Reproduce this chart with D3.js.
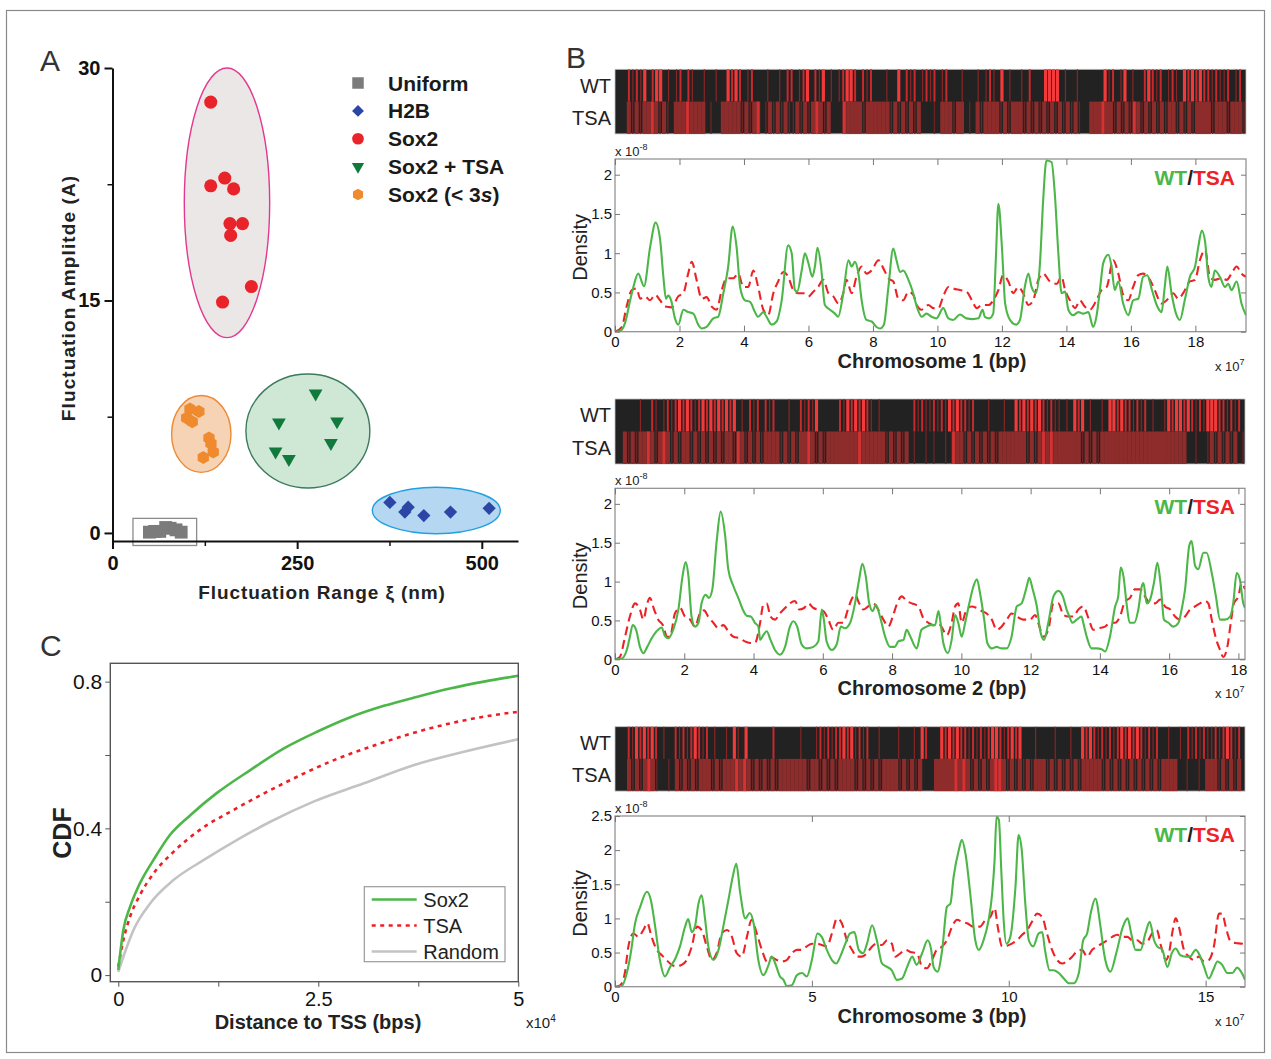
<!DOCTYPE html>
<html>
<head>
<meta charset="utf-8">
<script src="https://cdn.jsdelivr.net/npm/d3@7"></script>
<style>
  body { margin: 0; background: #fff; }
  svg text { font-family: "Liberation Sans", Arial, sans-serif; }
</style>
</head>
<body>
<svg id="fig" width="1271" height="1059"></svg>
<script>
// ---------- Panel A data (x: fluctuation range nm, y: amplitude) ----------
const uniformPts = [[50,0.05],[57,0.1],[64,0.1],[72,0.35],[78,0.3],[86,0.2],[93,0.05]];
const h2bPts = [[375.5,1.97],[400.3,1.66],[395.8,1.35],[421.5,1.12],[457.6,1.35],[509.9,1.59]];
const sox2Pts = [[133,27.8],[152,22.9],[133,22.4],[164,22.2],[159,19.96],[176,19.96],[160,19.2],[188,15.9],[149,14.9]];
const sox2TsaPts = [[275,9.0],[225.3,7.13],[304,7.2],[295.7,5.8],[220.8,5.25],[238.8,4.77]];
const sox2ShortPts = [[104.9,8.0],[116.9,7.83],[100.4,7.42],[108,7.17],[130.6,6.13],[133.3,5.77],[136.4,5.23],[122.9,4.87]];
// cluster outlines: [cx, cy, rx, ry] in data units
const sox2Region = [155, 21.3, 57.8, 8.7];
const sox2ShortRegion = [120.2, 6.39, 40.2, 2.48];
const sox2TsaRegion = [264.5, 6.58, 83.9, 3.68];
const h2bRegion = [438.4, 1.45, 86.6, 1.50];
const uniformBox = [27.7, -0.81, 113.9, 0.94];
const legendA = ["Uniform", "H2B", "Sox2", "Sox2 + TSA", "Sox2 (< 3s)"];

// ---------- Panel C data (x: distance to TSS, x10^4 bp; y: CDF) ----------
const cdfSox2 = [[0,0.014],[0.063,0.123],[0.147,0.186],[0.27,0.25],[0.44,0.314],[0.645,0.382],[0.9,0.436],[1.23,0.496],[1.65,0.559],[2.07,0.618],[2.49,0.664],[2.9,0.703],[3.32,0.734],[3.74,0.759],[4.16,0.782],[4.57,0.80],[5.0,0.816]];
const cdfTsa = [[0,0.023],[0.063,0.095],[0.147,0.159],[0.27,0.218],[0.44,0.277],[0.69,0.336],[1.02,0.396],[1.44,0.45],[2.07,0.523],[2.65,0.582],[3.28,0.632],[3.9,0.673],[4.53,0.703],[5.0,0.718]];
const cdfRandom = [[0,0.009],[0.063,0.05],[0.19,0.123],[0.4,0.196],[0.69,0.259],[1.07,0.314],[1.48,0.368],[1.9,0.418],[2.44,0.473],[3.07,0.523],[3.7,0.573],[4.32,0.609],[5.0,0.643]];
const cdfLegend = ["Sox2", "TSA", "Random"];

// ---------- Panel B data (x: position x10^7 bp, y: density x10^-8) ----------
const chr1WT = [[0,0],[0.16,0.01],[0.31,0.11],[0.47,0.40],[0.57,0.57],[0.72,0.74],[0.9,0.58],[1.09,1.08],[1.26,1.39],[1.40,1.17],[1.50,0.70],[1.58,0.42],[1.65,0.46],[1.74,0.40],[1.86,0.17],[1.96,0.09],[2.12,0.28],[2.27,0.25],[2.43,0.23],[2.58,0.09],[2.69,0.04],[2.84,0.06],[3.05,0.17],[3.2,0.19],[3.36,0.49],[3.51,0.83],[3.65,1.34],[3.77,1.08],[3.88,0.57],[4.03,0.40],[4.19,0.38],[4.34,0.25],[4.44,0.19],[4.6,0.25],[4.7,0.19],[4.86,0.09],[5.01,0.13],[5.17,0.40],[5.37,1.10],[5.48,1.0],[5.58,0.53],[5.65,0.51],[5.79,0.78],[5.89,1.0],[6.0,0.87],[6.12,0.70],[6.2,0.83],[6.28,1.07],[6.39,0.83],[6.51,0.34],[6.67,0.28],[6.82,0.23],[6.92,0.19],[7.08,0.49],[7.24,0.91],[7.34,0.83],[7.44,0.89],[7.55,0.74],[7.65,0.40],[7.8,0.15],[7.96,0.13],[8.11,0.06],[8.22,0.04],[8.34,0.09],[8.48,0.57],[8.63,1.06],[8.73,0.91],[8.84,0.76],[8.94,0.78],[9.1,0.66],[9.25,0.49],[9.36,0.32],[9.51,0.19],[9.66,0.23],[9.82,0.19],[9.97,0.17],[10.18,0.30],[10.34,0.17],[10.49,0.15],[10.7,0.22],[10.9,0.17],[11.1,0.16],[11.27,0.17],[11.4,0.28],[11.47,0.19],[11.61,0.17],[11.73,0.23],[11.81,0.91],[11.89,1.63],[12.0,1.08],[12.1,0.36],[12.25,0.15],[12.44,0.09],[12.56,0.15],[12.71,0.57],[12.82,0.74],[12.92,0.57],[13.05,0.49],[13.18,0.87],[13.28,1.68],[13.38,2.18],[13.54,2.16],[13.64,1.76],[13.75,1.0],[13.85,0.49],[13.96,0.51],[14.06,0.28],[14.21,0.21],[14.37,0.25],[14.52,0.23],[14.68,0.25],[14.83,0.06],[14.93,0.19],[15.04,0.53],[15.14,0.87],[15.3,0.98],[15.4,0.83],[15.5,0.53],[15.61,0.64],[15.76,0.36],[15.92,0.21],[16.07,0.40],[16.23,0.42],[16.38,0.70],[16.51,0.72],[16.64,0.55],[16.8,0.34],[16.95,0.25],[17.05,0.57],[17.13,0.83],[17.26,0.49],[17.4,0.23],[17.52,0.15],[17.67,0.40],[17.83,0.70],[17.99,0.83],[18.09,1.08],[18.2,1.29],[18.3,1.15],[18.4,0.70],[18.5,0.57],[18.6,0.78],[18.76,0.70],[18.92,0.57],[19.02,0.61],[19.12,0.53],[19.28,0.64],[19.43,0.36],[19.57,0.21]];
const chr1TSA = [[0,0],[0.21,0.06],[0.36,0.32],[0.52,0.53],[0.67,0.55],[0.78,0.42],[0.93,0.45],[1.09,0.40],[1.24,0.47],[1.40,0.40],[1.55,0.32],[1.76,0.31],[1.96,0.45],[2.12,0.49],[2.27,0.74],[2.38,0.89],[2.53,0.66],[2.69,0.42],[2.84,0.44],[3.0,0.32],[3.15,0.28],[3.31,0.53],[3.46,0.68],[3.67,0.68],[3.82,0.74],[3.98,0.57],[4.13,0.57],[4.29,0.78],[4.44,0.57],[4.6,0.28],[4.75,0.21],[4.91,0.49],[5.06,0.64],[5.22,0.76],[5.37,0.70],[5.53,0.53],[5.68,0.49],[5.84,0.49],[6.0,0.45],[6.15,0.51],[6.3,0.57],[6.46,0.66],[6.62,0.49],[6.77,0.45],[6.93,0.36],[7.08,0.49],[7.18,0.66],[7.34,0.49],[7.49,0.70],[7.65,0.83],[7.8,0.74],[7.96,0.78],[8.17,0.91],[8.32,0.81],[8.48,0.68],[8.63,0.64],[8.79,0.42],[8.94,0.40],[9.1,0.51],[9.25,0.47],[9.36,0.34],[9.5,0.28],[9.72,0.34],[9.87,0.30],[10.03,0.30],[10.18,0.45],[10.34,0.57],[10.49,0.55],[10.7,0.53],[10.9,0.51],[11.07,0.40],[11.22,0.30],[11.38,0.34],[11.59,0.34],[11.73,0.40],[11.89,0.53],[12.04,0.72],[12.2,0.64],[12.35,0.49],[12.51,0.57],[12.66,0.49],[12.82,0.34],[12.97,0.40],[13.13,0.66],[13.28,0.74],[13.49,0.64],[13.7,0.61],[13.85,0.70],[13.96,0.53],[14.11,0.40],[14.27,0.30],[14.42,0.40],[14.57,0.32],[14.73,0.28],[14.93,0.40],[15.09,0.53],[15.25,0.57],[15.45,0.91],[15.61,0.74],[15.76,0.47],[15.92,0.40],[16.07,0.57],[16.23,0.72],[16.38,0.74],[16.59,0.66],[16.74,0.53],[16.95,0.36],[17.11,0.40],[17.31,0.49],[17.47,0.42],[17.62,0.49],[17.83,0.64],[17.99,0.66],[18.14,0.91],[18.3,1.04],[18.45,0.70],[18.6,0.66],[18.81,0.68],[18.97,0.66],[19.12,0.74],[19.28,0.83],[19.43,0.74],[19.57,0.70]];
const chr2WT = [[0,0],[0.19,0.01],[0.34,0.12],[0.43,0.29],[0.51,0.44],[0.61,0.38],[0.72,0.16],[0.82,0.08],[0.93,0.16],[1.06,0.27],[1.2,0.36],[1.35,0.41],[1.44,0.30],[1.54,0.27],[1.68,0.38],[1.83,0.64],[1.95,1.07],[2.04,1.25],[2.12,1.07],[2.21,0.55],[2.31,0.42],[2.41,0.47],[2.5,0.72],[2.62,0.83],[2.71,0.79],[2.81,0.90],[2.94,1.54],[3.05,1.90],[3.18,1.59],[3.27,1.16],[3.42,0.94],[3.56,0.79],[3.71,0.62],[3.8,0.56],[3.92,0.55],[4.04,0.47],[4.14,0.42],[4.19,0.25],[4.28,0.31],[4.38,0.36],[4.49,0.25],[4.62,0.12],[4.76,0.06],[4.91,0.16],[5.05,0.42],[5.15,0.49],[5.26,0.42],[5.39,0.19],[5.53,0.14],[5.73,0.16],[5.87,0.23],[5.97,0.64],[6.03,0.51],[6.11,0.23],[6.26,0.12],[6.4,0.19],[6.52,0.42],[6.64,0.40],[6.79,0.47],[6.93,0.72],[7.05,1.03],[7.14,1.23],[7.24,1.07],[7.34,0.72],[7.44,0.62],[7.53,0.70],[7.65,0.55],[7.8,0.29],[7.94,0.16],[8.08,0.16],[8.18,0.23],[8.33,0.25],[8.42,0.38],[8.52,0.30],[8.71,0.14],[8.85,0.38],[9.0,0.42],[9.1,0.44],[9.24,0.44],[9.34,0.62],[9.4,0.47],[9.48,0.21],[9.61,0.08],[9.72,0.25],[9.82,0.57],[9.91,0.47],[10.01,0.29],[10.11,0.47],[10.23,0.72],[10.35,0.94],[10.45,1.03],[10.54,0.85],[10.66,0.51],[10.75,0.21],[10.88,0.14],[11.02,0.16],[11.16,0.14],[11.31,0.14],[11.45,0.29],[11.6,0.68],[11.74,0.72],[11.89,0.94],[11.96,1.05],[12.06,0.90],[12.18,0.68],[12.29,0.34],[12.39,0.25],[12.51,0.47],[12.66,0.81],[12.8,0.88],[12.93,0.81],[13.04,0.64],[13.12,0.55],[13.21,0.47],[13.33,0.51],[13.47,0.55],[13.52,0.47],[13.62,0.29],[13.76,0.14],[13.91,0.14],[14.05,0.13],[14.15,0.10],[14.29,0.29],[14.44,0.68],[14.53,0.81],[14.6,1.18],[14.68,1.07],[14.77,0.72],[14.86,0.47],[14.99,0.47],[15.11,0.64],[15.21,0.94],[15.26,0.98],[15.35,0.72],[15.45,0.77],[15.56,0.98],[15.66,1.24],[15.76,0.94],[15.85,0.51],[15.98,0.47],[16.12,0.42],[16.27,0.47],[16.36,0.64],[16.46,0.90],[16.58,1.46],[16.65,1.52],[16.75,1.20],[16.84,1.16],[16.99,1.37],[17.08,1.37],[17.23,1.11],[17.35,0.81],[17.47,0.51],[17.61,0.51],[17.76,0.55],[17.85,0.72],[17.95,1.11],[18.04,1.03],[18.14,0.72],[18.19,0.66]];
const chr2TSA = [[0,0],[0.14,0.03],[0.29,0.29],[0.43,0.55],[0.58,0.72],[0.72,0.64],[0.82,0.51],[0.93,0.72],[1.01,0.79],[1.13,0.64],[1.25,0.51],[1.38,0.44],[1.51,0.29],[1.59,0.29],[1.73,0.59],[1.88,0.66],[2.02,0.55],[2.17,0.51],[2.31,0.42],[2.45,0.59],[2.57,0.63],[2.69,0.55],[2.84,0.47],[2.98,0.40],[3.13,0.44],[3.27,0.36],[3.42,0.29],[3.61,0.27],[3.75,0.23],[3.9,0.21],[4.04,0.21],[4.19,0.47],[4.28,0.70],[4.38,0.72],[4.49,0.55],[4.62,0.51],[4.76,0.59],[4.91,0.66],[5.05,0.72],[5.2,0.75],[5.32,0.64],[5.46,0.66],[5.58,0.72],[5.73,0.66],[5.87,0.64],[6.02,0.62],[6.16,0.51],[6.3,0.38],[6.45,0.47],[6.59,0.47],[6.71,0.62],[6.83,0.77],[6.93,0.83],[7.05,0.72],[7.17,0.64],[7.31,0.68],[7.46,0.72],[7.6,0.64],[7.75,0.51],[7.89,0.42],[8.02,0.55],[8.13,0.70],[8.28,0.81],[8.42,0.75],[8.57,0.72],[8.76,0.68],[8.9,0.53],[9.05,0.47],[9.19,0.44],[9.38,0.44],[9.58,0.31],[9.72,0.47],[9.82,0.68],[9.91,0.72],[10.01,0.47],[10.15,0.64],[10.3,0.68],[10.44,0.66],[10.59,0.62],[10.73,0.59],[10.88,0.51],[11.02,0.38],[11.16,0.42],[11.31,0.51],[11.45,0.59],[11.6,0.55],[11.78,0.51],[11.98,0.51],[12.13,0.57],[12.22,0.47],[12.37,0.29],[12.51,0.38],[12.66,0.72],[12.8,0.72],[12.95,0.57],[13.09,0.55],[13.23,0.55],[13.38,0.64],[13.52,0.68],[13.67,0.53],[13.81,0.38],[13.96,0.40],[14.15,0.42],[14.29,0.47],[14.44,0.47],[14.58,0.55],[14.73,0.75],[14.87,0.79],[15.01,0.90],[15.16,0.90],[15.3,0.81],[15.45,0.72],[15.6,0.72],[15.74,0.77],[15.88,0.68],[16.03,0.64],[16.17,0.55],[16.31,0.51],[16.46,0.55],[16.6,0.64],[16.75,0.68],[16.89,0.72],[17.04,0.75],[17.13,0.72],[17.23,0.51],[17.35,0.27],[17.47,0.12],[17.56,0.03],[17.68,0.16],[17.78,0.47],[17.87,0.72],[18.0,0.81],[18.09,0.98],[18.19,0.90]];
const chr3WT = [[0,0],[0.17,0.01],[0.3,0.2],[0.4,0.49],[0.51,0.93],[0.64,1.17],[0.81,1.39],[0.91,1.27],[1.02,0.88],[1.14,0.39],[1.27,0.15],[1.4,0.29],[1.53,0.41],[1.65,0.59],[1.78,0.88],[1.86,0.99],[1.95,0.80],[2.03,0.88],[2.12,1.22],[2.2,1.34],[2.29,0.98],[2.37,0.59],[2.5,0.39],[2.63,0.54],[2.75,0.88],[2.88,1.27],[2.99,1.61],[3.08,1.80],[3.18,1.37],[3.31,1.0],[3.42,1.08],[3.52,0.93],[3.64,0.39],[3.77,0.17],[3.9,0.32],[3.98,0.44],[4.07,0.34],[4.19,0.15],[4.28,0.10],[4.36,0.01],[4.49,0.02],[4.62,0.17],[4.75,0.20],[4.87,0.15],[5.0,0.39],[5.14,0.78],[5.25,0.73],[5.38,0.54],[5.51,0.39],[5.62,0.34],[5.72,0.44],[5.85,0.63],[5.97,0.78],[6.08,0.80],[6.19,0.54],[6.3,0.49],[6.4,0.63],[6.53,0.90],[6.65,0.68],[6.78,0.34],[6.91,0.29],[7.03,0.24],[7.16,0.10],[7.29,0.12],[7.42,0.29],[7.55,0.44],[7.66,0.32],[7.8,0.49],[7.94,0.68],[8.03,0.54],[8.09,0.29],[8.19,0.22],[8.31,0.54],[8.43,1.17],[8.52,1.22],[8.6,1.61],[8.73,2.0],[8.81,2.15],[8.9,1.95],[9.03,1.32],[9.15,0.68],[9.24,0.54],[9.36,0.68],[9.49,0.98],[9.58,1.37],[9.64,1.85],[9.69,2.49],[9.75,2.44],[9.81,1.71],[9.87,0.98],[9.94,0.63],[10.04,0.73],[10.17,1.46],[10.25,2.22],[10.33,2.0],[10.42,1.22],[10.51,0.68],[10.62,0.59],[10.76,0.78],[10.85,0.80],[10.92,0.54],[11.04,0.24],[11.14,0.24],[11.27,0.2],[11.4,0.12],[11.53,0.05],[11.65,0.05],[11.78,0.2],[11.89,0.68],[11.99,0.78],[12.08,1.07],[12.2,1.29],[12.33,0.88],[12.42,0.49],[12.5,0.29],[12.58,0.22],[12.73,0.49],[12.9,0.88],[13.02,1.0],[13.11,0.78],[13.22,0.54],[13.35,0.54],[13.47,0.78],[13.58,0.95],[13.69,0.68],[13.77,0.59],[13.9,0.54],[14.03,0.29],[14.14,0.49],[14.24,0.56],[14.36,0.46],[14.49,0.44],[14.6,0.44],[14.75,0.54],[14.85,0.46],[14.96,0.29],[15.08,0.12],[15.19,0.24],[15.3,0.37],[15.42,0.32],[15.55,0.20],[15.68,0.2],[15.8,0.28],[15.93,0.19],[16.0,0.1]];
const chr3TSA = [[0,0],[0.13,0.02],[0.25,0.2],[0.34,0.59],[0.47,0.78],[0.59,0.73],[0.72,0.83],[0.82,0.93],[0.93,0.73],[1.06,0.54],[1.19,0.46],[1.31,0.39],[1.44,0.32],[1.57,0.30],[1.69,0.32],[1.82,0.39],[1.95,0.59],[2.08,0.88],[2.2,0.83],[2.33,0.59],[2.46,0.39],[2.58,0.49],[2.71,0.78],[2.84,0.83],[2.97,0.73],[3.09,0.49],[3.22,0.44],[3.35,0.73],[3.47,0.98],[3.6,0.78],[3.73,0.54],[3.86,0.37],[3.98,0.43],[4.11,0.39],[4.24,0.37],[4.36,0.39],[4.49,0.49],[4.62,0.54],[4.75,0.54],[4.87,0.59],[5.0,0.63],[5.13,0.63],[5.25,0.61],[5.38,0.59],[5.51,0.78],[5.64,1.0],[5.76,0.93],[5.89,0.68],[6.02,0.54],[6.14,0.44],[6.27,0.44],[6.4,0.49],[6.53,0.59],[6.65,0.63],[6.78,0.61],[6.91,0.68],[7.03,0.63],[7.12,0.44],[7.25,0.49],[7.37,0.54],[7.5,0.51],[7.67,0.49],[7.8,0.29],[7.92,0.27],[8.05,0.39],[8.17,0.54],[8.31,0.59],[8.43,0.68],[8.56,0.88],[8.69,0.98],[8.81,0.95],[8.94,0.93],[9.11,0.88],[9.27,0.88],[9.41,0.98],[9.53,1.02],[9.64,1.15],[9.72,0.88],[9.83,0.59],[9.96,0.6],[10.08,0.63],[10.21,0.68],[10.34,0.76],[10.47,0.83],[10.59,0.95],[10.72,1.07],[10.85,1.02],[10.97,0.78],[11.1,0.54],[11.23,0.39],[11.36,0.34],[11.47,0.37],[11.61,0.44],[11.72,0.51],[11.86,0.54],[11.99,0.44],[12.12,0.54],[12.25,0.59],[12.36,0.63],[12.5,0.68],[12.63,0.73],[12.75,0.76],[12.88,0.73],[13.01,0.73],[13.14,0.68],[13.26,0.68],[13.39,0.63],[13.52,0.66],[13.64,0.78],[13.76,0.83],[13.87,0.59],[13.99,0.39],[14.07,0.49],[14.15,0.78],[14.24,1.0],[14.32,0.88],[14.45,0.54],[14.58,0.44],[14.7,0.39],[14.83,0.44],[14.96,0.37],[15.08,0.39],[15.21,0.59],[15.34,1.07],[15.42,1.07],[15.51,0.88],[15.62,0.68],[15.76,0.64],[15.93,0.63],[16.0,0.62]];

// binding-site strips, one character per bin along the chromosome (0 = none, 3 = strongest)
const chr1StripWT  = "000212130233010120210010010032320120001001022012302130101233202120001003021201212012000100010121030100102000333301001000000312013010023212012103232322121120120";
const chr1StripTSA = "00021212232121022232222010022222121230121212112121232120003222212222221212121200010222122010212222121222121212121212121002223221212132121212122121212222122212221";
const chr2StripWT  = "00000010021012123232123232323230102120212000100212130000021323232101000000002121121213232212000100010032323232121101032301001033232212120100132332321213332212120";
const chr2StripTSA = "00212122321232121221212121212213212121222212121223212122222222322222212121201001010010322121212121222222212123232222222121212222222222222222222222001001212121201";
const chr3StripWT  = "00021323232010021212321201001031030000002000000100012121223231212001000010001032000323232212121233212323000100001000100323212121232323212120010010212121121232120";
const chr3StripTSA = "00021212321001021212122212122232321212121222222212212121222212121212222121212000222223232121212332121212122212121212122222121212121212121222200100102221212120";

const stripLabels = ["WT", "TSA"];
const densityLegend = ["WT", "TSA"];

// ---------- drawing ----------
const svg = d3.select("#fig");
const FONT = '"Liberation Sans", Arial, sans-serif';

svg.append("rect")
  .attr("x", 6.5).attr("y", 10.5).attr("width", 1258).attr("height", 1042)
  .attr("fill", "none").attr("stroke", "#8a8a8a").attr("stroke-width", 1.2);

function panelLetter(t, x, y) {
  svg.append("text").attr("x", x).attr("y", y).text(t)
    .attr("font-size", 30).attr("fill", "#333");
}
panelLetter("A", 40, 71);
panelLetter("B", 566, 68);
panelLetter("C", 40, 656);

function cleanAxis(g, size, weight, color) {
  g.attr("font-family", FONT).attr("font-size", size);
  g.selectAll("text").attr("font-weight", weight).attr("fill", "#111");
  g.selectAll("line").attr("stroke", color);
  g.select(".domain").attr("stroke", color);
}

// ===== Panel A =====
(function () {
  const xA = d3.scaleLinear().domain([0, 549]).range([112.5, 518]);
  const yA = d3.scaleLinear().domain([-0.52, 30]).range([541, 68]);
  const g = svg.append("g");

  const hexagon = {
    draw(ctx, size) {
      const r = Math.sqrt(size / (1.5 * Math.sqrt(3)));
      for (let i = 0; i < 6; i++) {
        const a = Math.PI / 3 * i + Math.PI / 6;
        if (i) ctx.lineTo(r * Math.cos(a), r * Math.sin(a));
        else ctx.moveTo(r * Math.cos(a), r * Math.sin(a));
      }
      ctx.closePath();
    }
  };
  const markers = {
    "Uniform":     { type: d3.symbolSquare,   size: 165, rot: 0,   color: "#7b7b7b" },
    "H2B":         { type: d3.symbolSquare,   size: 88,  rot: 45,  color: "#2c46a6" },
    "Sox2":        { type: d3.symbolCircle,   size: 135, rot: 0,   color: "#e8242a" },
    "Sox2 + TSA":  { type: d3.symbolTriangle, size: 82,  rot: 180, color: "#0f7a3c" },
    "Sox2 (< 3s)": { type: hexagon,           size: 110, rot: 0,   color: "#f08a2e" }
  };
  const regionStyle = [
    { r: sox2Region,      fill: "#ece7e7", stroke: "#e3388f" },
    { r: sox2ShortRegion, fill: "#f6d3b5", stroke: "#ee8a33" },
    { r: sox2TsaRegion,   fill: "#cfe8d6", stroke: "#3b7a5c" },
    { r: h2bRegion,       fill: "#b5d7f1", stroke: "#23a0e2" }
  ];

  g.selectAll("ellipse.region").data(regionStyle).join("ellipse")
    .attr("cx", d => xA(d.r[0])).attr("cy", d => yA(d.r[1]))
    .attr("rx", d => xA(d.r[0] + d.r[2]) - xA(d.r[0]))
    .attr("ry", d => yA(d.r[1] - d.r[3]) - yA(d.r[1]))
    .attr("fill", d => d.fill).attr("stroke", d => d.stroke).attr("stroke-width", 1.4);

  g.append("rect")
    .attr("x", xA(uniformBox[0])).attr("y", yA(uniformBox[3]))
    .attr("width", xA(uniformBox[2]) - xA(uniformBox[0]))
    .attr("height", yA(uniformBox[1]) - yA(uniformBox[3]))
    .attr("fill", "none").attr("stroke", "#8c8c8c").attr("stroke-width", 1.3);

  const series = [
    { name: "Uniform", pts: uniformPts },
    { name: "Sox2 (< 3s)", pts: sox2ShortPts },
    { name: "Sox2 + TSA", pts: sox2TsaPts },
    { name: "H2B", pts: h2bPts },
    { name: "Sox2", pts: sox2Pts }
  ];
  series.forEach(s => {
    const m = markers[s.name];
    g.selectAll(null).data(s.pts).join("path")
      .attr("d", d3.symbol().type(m.type).size(m.size))
      .attr("transform", d => `translate(${xA(d[0])},${yA(d[1])}) rotate(${m.rot})`)
      .attr("fill", m.color);
  });

  // axes
  const ay = g.append("g").attr("transform", `translate(${xA(0)},0)`)
    .call(d3.axisLeft(yA).tickValues([0, 15, 30]).tickFormat(d3.format("d")).tickSize(8).tickSizeOuter(0).tickPadding(4));
  cleanAxis(ay, 20, "bold", "#111");
  ay.select(".domain").attr("stroke-width", 2);
  ay.selectAll("line").attr("stroke-width", 2);
  const ayMinor = g.append("g").attr("transform", `translate(${xA(0)},0)`)
    .call(d3.axisLeft(yA).tickValues([7.5, 22.5]).tickFormat("").tickSize(5).tickSizeOuter(0));
  ayMinor.select(".domain").remove();
  ayMinor.selectAll("line").attr("stroke", "#111").attr("stroke-width", 1.5);

  const ax = g.append("g").attr("transform", `translate(0,${yA(-0.52)})`)
    .call(d3.axisBottom(xA).tickValues([0, 250, 500]).tickFormat(d3.format("d")).tickSize(8).tickSizeOuter(0).tickPadding(7));
  cleanAxis(ax, 20, "bold", "#111");
  ax.select(".domain").attr("stroke-width", 2);
  ax.selectAll("line").attr("stroke-width", 2);
  const axMinor = g.append("g").attr("transform", `translate(0,${yA(-0.52)})`)
    .call(d3.axisBottom(xA).tickValues([125, 375]).tickFormat("").tickSize(5).tickSizeOuter(0));
  axMinor.select(".domain").remove();
  axMinor.selectAll("line").attr("stroke", "#111").attr("stroke-width", 1.5);

  g.append("text").attr("x", 322).attr("y", 599).attr("text-anchor", "middle")
    .attr("font-size", 19).attr("font-weight", "bold").attr("letter-spacing", 0.9).attr("fill", "#222")
    .text("Fluctuation Range ξ (nm)");
  g.append("text").attr("transform", "translate(75,298) rotate(-90)").attr("text-anchor", "middle")
    .attr("font-size", 19).attr("font-weight", "bold").attr("letter-spacing", 1.1).attr("fill", "#222")
    .text("Fluctuation Amplitde (A)");

  // legend
  const lg = g.append("g");
  const rowY = d3.scalePoint().domain(legendA).range([83, 194.5]);
  legendA.forEach(name => {
    const m = markers[name];
    lg.append("path").attr("d", d3.symbol().type(m.type).size(m.size * 0.8))
      .attr("transform", `translate(358,${rowY(name)}) rotate(${m.rot})`).attr("fill", m.color);
    const t = lg.append("text").attr("x", 388).attr("y", rowY(name)).attr("dy", "0.36em")
      .attr("font-size", 21).attr("font-weight", "bold").attr("fill", "#1a1a1a");
    if (name === "Sox2 (< 3s)") {
      t.append("tspan").text("Sox2 (< 3");
      t.append("tspan").attr("font-style", "italic").text("s");
      t.append("tspan").text(")");
    } else t.text(name);
  });
})();

// ===== Panel C =====
(function () {
  const xC = d3.scaleLinear().domain([-0.1, 5]).range([110.3, 518.3]);
  const yC = d3.scaleLinear().domain([-0.018, 0.85]).range([981.7, 663.3]);
  const g = svg.append("g");

  const line = d3.line().x(d => xC(d[0])).y(d => yC(d[1])).curve(d3.curveMonotoneX);
  const styles = {
    "Sox2":   { data: cdfSox2,   color: "#4cb748", dash: null },
    "TSA":    { data: cdfTsa,    color: "#ee1f24", dash: "4,4.5" },
    "Random": { data: cdfRandom, color: "#c3c3c3", dash: null }
  };
  ["Random", "TSA", "Sox2"].forEach(k => {
    g.append("path").datum(styles[k].data).attr("d", line)
      .attr("fill", "none").attr("stroke", styles[k].color).attr("stroke-width", 2.6)
      .attr("stroke-dasharray", styles[k].dash);
  });

  g.append("rect").attr("x", 110.3).attr("y", 663.3).attr("width", 408).attr("height", 318.4)
    .attr("fill", "none").attr("stroke", "#555").attr("stroke-width", 1.4);

  const ay = g.append("g").attr("transform", "translate(110.3,0)")
    .call(d3.axisLeft(yC).tickValues([0, 0.4, 0.8]).tickFormat(d3.format("~g")).tickSize(5).tickSizeOuter(0).tickPadding(3));
  cleanAxis(ay, 21, "normal", "#555");
  ay.select(".domain").remove();
  const ayMinor = g.append("g").attr("transform", "translate(110.3,0)")
    .call(d3.axisLeft(yC).tickValues([0.2, 0.6]).tickFormat("").tickSize(5).tickSizeOuter(0));
  ayMinor.select(".domain").remove();
  ayMinor.selectAll("line").attr("stroke", "#555");

  const ax = g.append("g").attr("transform", "translate(0,981.7)")
    .call(d3.axisBottom(xC).tickValues([0, 2.5, 5]).tickFormat(d3.format("~g")).tickSize(5).tickSizeOuter(0).tickPadding(5));
  cleanAxis(ax, 20, "normal", "#555");
  ax.select(".domain").remove();
  const axMinor = g.append("g").attr("transform", "translate(0,981.7)")
    .call(d3.axisBottom(xC).tickValues([1.25, 3.75]).tickFormat("").tickSize(5).tickSizeOuter(0));
  axMinor.select(".domain").remove();
  axMinor.selectAll("line").attr("stroke", "#555");

  const xm = g.append("text").attr("x", 526).attr("y", 1028).attr("font-size", 15).attr("fill", "#222");
  xm.append("tspan").text("x10");
  xm.append("tspan").attr("font-size", 10).attr("dy", -6).text("4");

  g.append("text").attr("x", 318).attr("y", 1029).attr("text-anchor", "middle")
    .attr("font-size", 20).attr("font-weight", "bold").attr("fill", "#222").text("Distance to TSS (bps)");
  g.append("text").attr("transform", "translate(71,833) rotate(-90)").attr("text-anchor", "middle")
    .attr("font-size", 25).attr("font-weight", "bold").attr("fill", "#222").text("CDF");

  // legend
  const lg = g.append("g");
  lg.append("rect").attr("x", 364.3).attr("y", 886.7).attr("width", 140.7).attr("height", 75)
    .attr("fill", "#fff").attr("stroke", "#9a9a9a").attr("stroke-width", 1.2);
  const ly = d3.scalePoint().domain(cdfLegend).range([899.5, 951.5]);
  cdfLegend.forEach(k => {
    lg.append("line").attr("x1", 371.7).attr("x2", 416.7).attr("y1", ly(k)).attr("y2", ly(k))
      .attr("stroke", styles[k].color).attr("stroke-width", 2.6).attr("stroke-dasharray", styles[k].dash);
    lg.append("text").attr("x", 423.3).attr("y", ly(k)).attr("dy", "0.36em")
      .attr("font-size", 20).attr("fill", "#222").text(k);
  });
})();

// ===== Panel B =====
// stripe look per row: colour and share of the bin that the stripe fills, by level
const stripLook = [
  { 1: ["#8a2525", 0.3], 2: ["#c8292c", 0.5], 3: ["#f23a3b", 0.8] },   // WT
  { 1: ["#6a2424", 0.35], 2: ["#8e2c2c", 1.0], 3: ["#d63234", 0.7] }    // TSA
];

function drawChromosome(cfg, wt, tsa, stripWT, stripTSA) {
  const g = svg.append("g");
  const L = 615, R = cfg.right;

  // strip
  const sTop = cfg.stripTop, sH = cfg.stripH;
  g.append("rect").attr("x", L).attr("y", sTop).attr("width", R - L).attr("height", sH * 2)
    .attr("fill", "#222").attr("stroke", "#c4c4c4").attr("stroke-width", 0.8);
  [stripWT, stripTSA].forEach((s, row) => {
    const look = stripLook[row];
    const bins = s.split("").map((c, i) => ({ i, v: +c }));
    const bx = d3.scaleLinear().domain([0, bins.length]).range([L, R]);
    const bw = bx(1) - bx(0);
    const on = bins.filter(b => b.v > 0);
    if (row === 1) {
      // dark red underlay where bright TSA stripes sit
      g.selectAll(null).data(on.filter(b => b.v === 3)).join("rect")
        .attr("x", b => bx(b.i)).attr("width", bw + 0.2)
        .attr("y", sTop + sH).attr("height", sH).attr("fill", look[2][0]);
    }
    g.selectAll(null).data(on).join("rect")
      .attr("x", b => bx(b.i) + bw * (1 - look[b.v][1]) / 2)
      .attr("width", b => bw * look[b.v][1] + (look[b.v][1] === 1 ? 0.2 : 0))
      .attr("y", sTop + row * sH).attr("height", sH)
      .attr("fill", b => look[b.v][0]);
  });
  stripLabels.forEach((lab, row) => {
    g.append("text").attr("x", 611).attr("y", sTop + sH * (row + 0.5)).attr("dy", "0.36em")
      .attr("text-anchor", "end").attr("font-size", 20).attr("fill", "#222").text(lab);
  });

  // density plot
  const x = d3.scaleLinear().domain([0, cfg.xMax]).range([L, R]);
  const y = d3.scaleLinear().domain([0, cfg.yMax]).range([cfg.bottom, cfg.top]);
  const clipId = "clip" + cfg.id;
  g.append("clipPath").attr("id", clipId).append("rect")
    .attr("x", L).attr("y", cfg.top).attr("width", R - L).attr("height", cfg.bottom - cfg.top);

  const line = d3.line().x(d => x(d[0])).y(d => y(d[1])).curve(d3.curveMonotoneX);
  const cg = g.append("g").attr("clip-path", `url(#${clipId})`);
  cg.append("path").datum(tsa).attr("d", line).attr("fill", "none")
    .attr("stroke", "#ec2227").attr("stroke-width", 2.1).attr("stroke-dasharray", "9,5");
  cg.append("path").datum(wt).attr("d", line).attr("fill", "none")
    .attr("stroke", "#4cb748").attr("stroke-width", 2.1);

  g.append("rect").attr("x", L).attr("y", cfg.top).attr("width", R - L).attr("height", cfg.bottom - cfg.top)
    .attr("fill", "none").attr("stroke", "#8a8a8a").attr("stroke-width", 1.2);

  const fmt = d3.format("~g");
  const axB = g.append("g").attr("transform", `translate(0,${cfg.bottom})`)
    .call(d3.axisBottom(x).tickValues(cfg.xTicks).tickFormat(fmt).tickSize(-6).tickSizeOuter(0).tickPadding(5));
  const axT = g.append("g").attr("transform", `translate(0,${cfg.top})`)
    .call(d3.axisTop(x).tickValues(cfg.xTicks).tickFormat("").tickSize(-6).tickSizeOuter(0));
  const axL = g.append("g").attr("transform", `translate(${L},0)`)
    .call(d3.axisLeft(y).tickValues(cfg.yTicks).tickFormat(fmt).tickSize(-5).tickSizeOuter(0).tickPadding(3));
  const axR = g.append("g").attr("transform", `translate(${R},0)`)
    .call(d3.axisRight(y).tickValues(cfg.yTicks).tickFormat("").tickSize(-5).tickSizeOuter(0));
  [axB, axT, axL, axR].forEach(a => {
    cleanAxis(a, 15, "normal", "#777");
    a.select(".domain").remove();
  });

  const ex = g.append("text").attr("x", 615).attr("y", cfg.top - 3).attr("font-size", 13).attr("fill", "#222");
  ex.append("tspan").text("x 10");
  ex.append("tspan").attr("font-size", 9).attr("dy", -6).text("-8");

  g.append("text").attr("transform", `translate(587,${(cfg.top + cfg.bottom) / 2 + 2}) rotate(-90)`)
    .attr("text-anchor", "middle").attr("font-size", 20).attr("fill", "#222").text("Density");

  g.append("text").attr("x", 932).attr("y", cfg.bottom + 36).attr("text-anchor", "middle")
    .attr("font-size", 20).attr("font-weight", "bold").attr("fill", "#222").text(cfg.title);

  const e7 = g.append("text").attr("x", 1215).attr("y", cfg.bottom + 39).attr("font-size", 13).attr("fill", "#222");
  e7.append("tspan").text("x 10");
  e7.append("tspan").attr("font-size", 9).attr("dy", -6).text("7");

  const lt = g.append("text").attr("x", 1235).attr("y", cfg.top + 26).attr("text-anchor", "end")
    .attr("font-size", 21).attr("font-weight", "bold");
  lt.append("tspan").attr("fill", "#4cb748").text(densityLegend[0]);
  lt.append("tspan").attr("fill", "#222").text("/");
  lt.append("tspan").attr("fill", "#ec2227").text(densityLegend[1]);
}

drawChromosome({ id: 1, right: 1246, stripTop: 69.3, stripH: 32.3, top: 159, bottom: 331.7,
  xMax: 19.57, yMax: 2.2, xTicks: d3.range(0, 19, 2), yTicks: [0, 0.5, 1, 1.5, 2], title: "Chromosome 1 (bp)" },
  chr1WT, chr1TSA, chr1StripWT, chr1StripTSA);
drawChromosome({ id: 2, right: 1245, stripTop: 399, stripH: 32.5, top: 488.3, bottom: 659.3,
  xMax: 18.19, yMax: 2.2, xTicks: d3.range(0, 19, 2), yTicks: [0, 0.5, 1, 1.5, 2], title: "Chromosome 2 (bp)" },
  chr2WT, chr2TSA, chr2StripWT, chr2StripTSA);
drawChromosome({ id: 3, right: 1245, stripTop: 726.7, stripH: 32.2, top: 816, bottom: 986.7,
  xMax: 16.0, yMax: 2.5, xTicks: [0, 5, 10, 15], yTicks: [0, 0.5, 1, 1.5, 2, 2.5], title: "Chromosome 3 (bp)" },
  chr3WT, chr3TSA, chr3StripWT, chr3StripTSA);
</script>
</body>
</html>
